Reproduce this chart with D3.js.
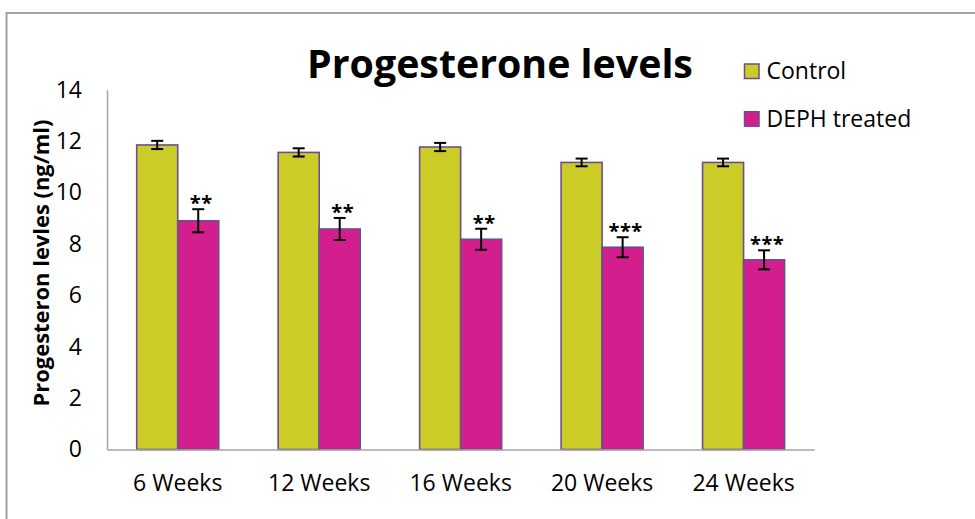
<!DOCTYPE html>
<html>
<head>
<meta charset="utf-8">
<script src="https://cdn.jsdelivr.net/npm/d3@7/dist/d3.min.js"></script>
<style>
  html, body { margin: 0; padding: 0; background: #fff; }
  svg { display: block; }
  text { font-family: "Open Sans", "DejaVu Sans", sans-serif; fill: #000; }
</style>
</head>
<body>
<svg id="chart" width="975" height="519"></svg>
<script>
// ---- data ----
const categories = ["6 Weeks", "12 Weeks", "16 Weeks", "20 Weeks", "24 Weeks"];
const seriesNames = ["Control", "DEPH treated"];
const controlValues = [11.85, 11.56, 11.77, 11.17, 11.17];
const controlErrors = [0.16, 0.16, 0.16, 0.15, 0.15];
const dephValues = [8.9, 8.58, 8.18, 7.87, 7.38];
const dephErrors = [0.45, 0.43, 0.41, 0.39, 0.37];
const significance = ["**", "**", "**", "***", "***"];
const yTicks = [0, 2, 4, 6, 8, 10, 12, 14];
const titleText = "Progesterone levels";
const yTitleText = "Progesteron levles (ng/ml)";

// ---- styles ----
const colors = ["#cccc29", "#d31f8e"];
const barStroke = "#6a4f8c";
const axisColor = "#a6a6a6";
const labelSize = "23px";

// fit a text element's font size so its length equals target width
function fitWidth(sel, target) {
  const node = sel.node();
  const fs = parseFloat(sel.style("font-size"));
  const w = node.getComputedTextLength();
  if (w > 0) sel.style("font-size", (fs * target / w) + "px");
}

// ---- layout ----
const svg = d3.select("#chart");
const plot = { left: 107, right: 814.3, top: 89.7, bottom: 449.5 };

// outer frame (top & left visible)
svg.append("rect")
  .attr("x", 6.5).attr("y", 13)
  .attr("width", 1200).attr("height", 1200)
  .attr("fill", "none").attr("stroke", "#a0a0a0").attr("stroke-width", 2);

const x0 = d3.scaleBand()
  .domain(categories)
  .range([plot.left, plot.right])
  .paddingInner(0.42)
  .paddingOuter(0.21);

const x1 = d3.scaleBand()
  .domain(seriesNames)
  .range([0, x0.bandwidth()]);

const y = d3.scaleLinear().domain([0, 14]).range([plot.bottom, plot.top]);

const rows = categories.map((c, i) => ({
  cat: c,
  vals: [
    { s: seriesNames[0], v: controlValues[i], e: controlErrors[i], star: "" },
    { s: seriesNames[1], v: dephValues[i], e: dephErrors[i], star: significance[i] }
  ]
}));

// y axis
const yAxis = d3.axisLeft(y).tickValues(yTicks).tickSize(0).tickPadding(25).tickFormat(d3.format("d"));
const gy = svg.append("g").attr("transform", `translate(${plot.left},0)`).call(yAxis);
gy.select(".domain").attr("stroke", axisColor).attr("stroke-width", 1.5);
gy.selectAll("text").style("font-size", labelSize).style("font-family", "'Open Sans', sans-serif");

// bars
const groups = svg.append("g").selectAll("g")
  .data(rows).join("g")
  .attr("transform", d => `translate(${x0(d.cat)},0)`);

groups.selectAll("rect")
  .data(d => d.vals).join("rect")
  .attr("x", d => x1(d.s))
  .attr("y", d => y(d.v))
  .attr("width", x1.bandwidth())
  .attr("height", d => y(0) - y(d.v))
  .attr("fill", (d, i) => colors[i])
  .attr("stroke", barStroke)
  .attr("stroke-width", 1.6);

// x axis
const xAxis = d3.axisBottom(x0).tickSize(0).tickPadding(25);
const gx = svg.append("g").attr("transform", `translate(0,${plot.bottom})`).call(xAxis);
gx.select(".domain").attr("stroke", axisColor).attr("stroke-width", 1.5);
gx.selectAll("text").style("font-size", labelSize).style("font-family", "'Open Sans', sans-serif");

// error bars
const capW = 12;
const eb = groups.selectAll("g.err")
  .data(d => d.vals).join("g").attr("class", "err")
  .attr("transform", d => `translate(${x1(d.s) + x1.bandwidth() / 2},0)`);
eb.append("line")
  .attr("x1", 0).attr("x2", 0)
  .attr("y1", d => y(d.v + d.e)).attr("y2", d => y(d.v - d.e))
  .attr("stroke", "#000").attr("stroke-width", 2);
eb.append("line")
  .attr("x1", -capW / 2).attr("x2", capW / 2)
  .attr("y1", d => y(d.v + d.e)).attr("y2", d => y(d.v + d.e))
  .attr("stroke", "#000").attr("stroke-width", 2);
eb.append("line")
  .attr("x1", -capW / 2).attr("x2", capW / 2)
  .attr("y1", d => y(d.v - d.e)).attr("y2", d => y(d.v - d.e))
  .attr("stroke", "#000").attr("stroke-width", 2);

// significance stars
eb.filter(d => d.star).append("text")
  .attr("x", 3)
  .attr("y", d => y(d.v + d.e) + 1)
  .attr("text-anchor", "middle")
  .style("font-size", "20px")
  .style("font-weight", "bold")
  .style("letter-spacing", "0.5px")
  .text(d => d.star);

// title
const title = svg.append("text")
  .attr("x", 500).attr("y", 78)
  .attr("text-anchor", "middle")
  .style("font-size", "38px").style("font-weight", "bold")
  .text(titleText);
fitWidth(title, 386);

// y title
const yTitle = svg.append("text")
  .attr("transform", `translate(49,263) rotate(-90)`)
  .attr("text-anchor", "middle")
  .style("font-size", "21px").style("font-weight", "bold")
  .text(yTitleText);
fitWidth(yTitle, 287);

// legend
const legend = svg.append("g").attr("transform", "translate(744.5,64)");
const li = legend.selectAll("g").data(seriesNames).join("g")
  .attr("transform", (d, i) => `translate(0,${i * 47.7})`);
li.append("rect").attr("width", 14.5).attr("height", 14.5)
  .attr("fill", (d, i) => colors[i]).attr("stroke", barStroke).attr("stroke-width", 1.5);
li.append("text").attr("x", 22).attr("y", 7).attr("dy", "0.36em")
  .style("font-size", labelSize).text(d => d);
</script>
</body>
</html>
